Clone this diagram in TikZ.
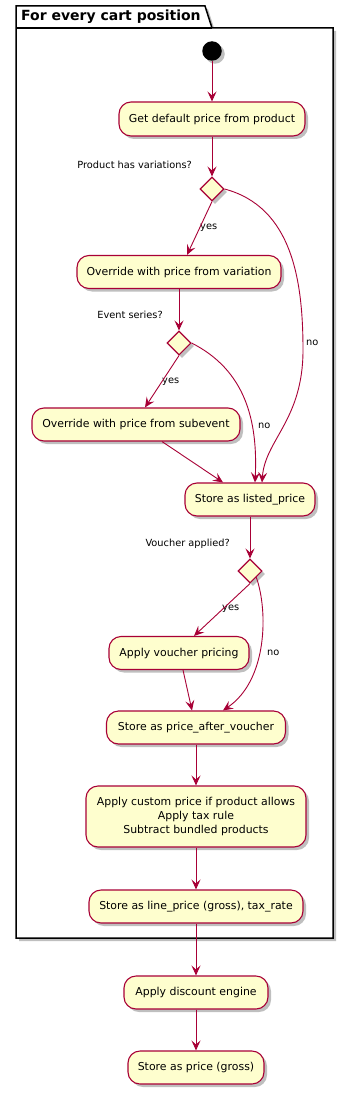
\documentclass[tikz,border=0pt]{standalone}
\usepackage{fontspec}
\setmainfont{DejaVu Sans}
\usetikzlibrary{shapes.geometric,arrows.meta,shadows}
\definecolor{umlfill}{HTML}{FEFECE}
\definecolor{umlline}{HTML}{A80036}

\begin{document}
\begin{tikzpicture}[x=1pt, y=-1pt,
  shade/.style={drop shadow={shadow xshift=3pt, shadow yshift=-3pt, opacity=0.25, fill=black}},
  act/.style={draw=umlline, line width=1.1pt, fill=umlfill, rounded corners=12pt,
              minimum height=33pt, inner sep=2pt, font=\fontsize{10.9}{14}\selectfont, shade},
  choice/.style={diamond, draw=umlline, line width=1.1pt, fill=umlfill,
                 minimum width=24pt, minimum height=24pt, inner sep=0pt, shade},
  startdot/.style={circle, fill=black, minimum size=19.5pt, inner sep=0pt, shade},
  cond/.style={font=\fontsize{9.8}{12}\selectfont, anchor=east, inner sep=0pt},
  lbl/.style={font=\fontsize{9.8}{12}\selectfont, anchor=west, inner sep=0pt},
  flow/.style={draw=umlline, line width=0.9pt, -{Stealth[length=10pt, width=9pt, inset=4pt]}}]
\useasboundingbox (0,0) rectangle (348,1097);
% package frame
\draw[line width=1.5pt, fill=white, shade]
  (16,6) -- (205,6) -- (212,28) -- (333,28) -- (333,938) -- (16,938) -- cycle;
\draw[line width=1.5pt] (16,28) -- (212,28);
\node[font=\bfseries\fontsize{14}{16}\selectfont, anchor=west, inner sep=0pt] (ttl) at (21,16.5) {For every cart position};
% activities
\node[startdot] (init) at (212,51) {};
\node[act, minimum width=186pt, minimum height=34pt] (b1) at (212,119) {Get default price from product};
\node[choice] (d1) at (212,189) {};
\node[cond] (q1) at (192,165) {Product has variations?};
\node[act, minimum width=204pt] (b2) at (179,272) {Override with price from variation};
\node[choice] (d2) at (179,343) {};
\node[cond] (q2) at (163,315) {Event series?};
\node[act, minimum width=208pt] (b3) at (136,424.5) {Override with price from subevent};
\node[act, minimum width=130pt] (b4) at (250,499.5) {Store as listed\_price};
\node[choice] (d3) at (250,571) {};
\node[cond] (q3) at (230,544) {Voucher applied?};
\node[act, minimum width=140pt] (b5) at (179,653) {Apply voucher pricing};
\node[act, minimum width=179pt] (b6) at (196,727.5) {Store as price\_after\_voucher};
\node[act, minimum width=220pt, minimum height=61pt, align=center] (b7) at (196,816.5)
  {Apply custom price if product allows\\Apply tax rule\\Subtract bundled products};
\node[act, minimum width=214pt] (b8) at (196,906.5) {Store as line\_price (gross), tax\_rate};
\node[act, minimum width=144pt] (b9) at (196,992.5) {Apply discount engine};
\node[act, minimum width=136pt] (b10) at (196,1067.5) {Store as price (gross)};
% branch labels
\node[lbl] (y1) at (200,228) {yes};
\node[lbl] (n1) at (306,343) {no};
\node[lbl] (y2) at (162,382) {yes};
\node[lbl] (n2) at (258,426) {no};
\node[lbl] (y3) at (222,609) {yes};
\node[lbl] (n3) at (267,653) {no};
% connectors
\draw[flow] (init) -- (b1);
\draw[flow] (b1) -- (d1);
\draw[flow] (d1.south) -- ([xshift=8pt]b2.north);
\draw[flow] (d1.east) .. controls (292,207) and (303,280) .. (303,350)
  .. controls (303,420) and (265,440) .. ([xshift=12pt]b4.north);
\draw[flow] (b2) -- (d2);
\draw[flow] (d2.south) -- ([xshift=9pt]b3.north);
\draw[flow] (d2.east) .. controls (245,370) and (258,420) .. ([xshift=5pt]b4.north);
\draw[flow] ([xshift=26pt]b3.south) -- ([xshift=-27pt]b4.north);
\draw[flow] (b4) -- (d3);
\draw[flow] (d3.south) -- ([xshift=15pt]b5.north);
\draw[flow] (d3.south east) .. controls (268,610) and (268,680) .. ([xshift=27pt]b6.north);
\draw[flow] ([xshift=4pt]b5.south) -- ([xshift=-4pt]b6.north);
\draw[flow] (b6.south) -- (b7.north);
\draw[flow] (b7.south) -- (b8.north);
\draw[flow] (b8.south) -- (b9.north);
\draw[flow] (b9.south) -- (b10.north);
\end{tikzpicture}
\end{document}
